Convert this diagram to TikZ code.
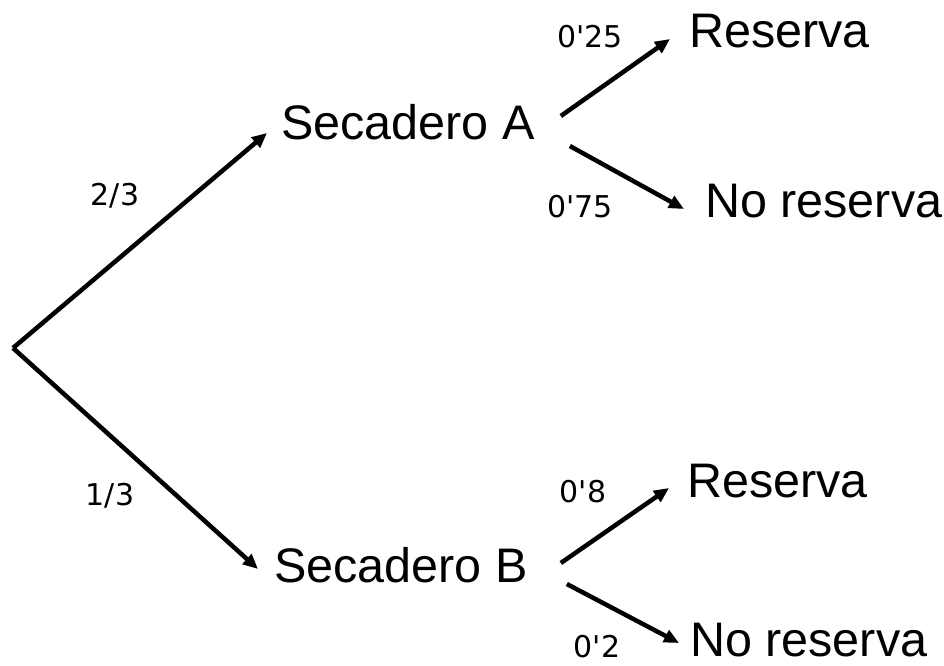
\documentclass[tikz,border=0pt]{standalone}
\usepackage{fontspec}
\setmainfont{Liberation Sans}
\newfontfamily\probfont{DejaVu Sans}
\usetikzlibrary{arrows.meta}

\begin{document}
\begin{tikzpicture}[x=10pt,y=10pt,
  outcome/.style={inner sep=0pt,anchor=base west,font=\fontsize{48.5}{50}\selectfont},
  prob/.style={inner sep=0pt,anchor=base,font=\probfont\fontsize{30}{32}\selectfont},
  branch/.style={line width=4.5pt,-{Triangle[length=15pt,width=13pt]}}]
\useasboundingbox (0,0) rectangle (94.4,-66.5);
% first stage
\coordinate (root) at (1.3,-34.8);
\node [outcome] (secA) at (28.1,-13.9) {Secadero A};
\node [outcome] (secB) at (27.4,-58.2) {Secadero B};
% second stage
\node [outcome] (resA) at (68.9,-4.7) {Reserva};
\node [outcome] (noA) at (70.5,-21.7) {No reserva};
\node [outcome] (resB) at (68.7,-49.7) {Reserva};
\node [outcome] (noB) at (69.0,-65.6) {No reserva};
% branches
\draw [branch] (root) -- ([xshift=-14pt,yshift=6pt]secA.base west);
\draw [branch] (root) -- ([xshift=-16pt,yshift=13pt]secB.base west);
\draw [branch] ([xshift=26pt,yshift=23pt]secA.base east) -- ([xshift=-19pt,yshift=8pt]resA.base west);
\draw [branch] ([xshift=35pt,yshift=-7pt]secA.base east) -- ([xshift=-21pt,yshift=8pt]noA.base west);
\draw [branch] ([xshift=33pt,yshift=19pt]secB.base east) -- ([xshift=-18pt,yshift=9pt]resB.base west);
\draw [branch] ([xshift=39pt,yshift=-2pt]secB.base east) -- ([xshift=-11pt,yshift=13pt]noB.base west);
% probabilities
\node [prob] (pA) at (11.5,-20.5) {2/3};
\node [prob] (pB) at (11.0,-50.5) {1/3};
\node [prob] (pAr) at (59.0,-4.7) {0\textquotesingle 25};
\node [prob] (pAn) at (58.0,-21.7) {0\textquotesingle 75};
\node [prob] (pBr) at (58.3,-50.2) {0\textquotesingle 8};
\node [prob] (pBn) at (59.7,-65.7) {0\textquotesingle 2};
\end{tikzpicture}
\end{document}
